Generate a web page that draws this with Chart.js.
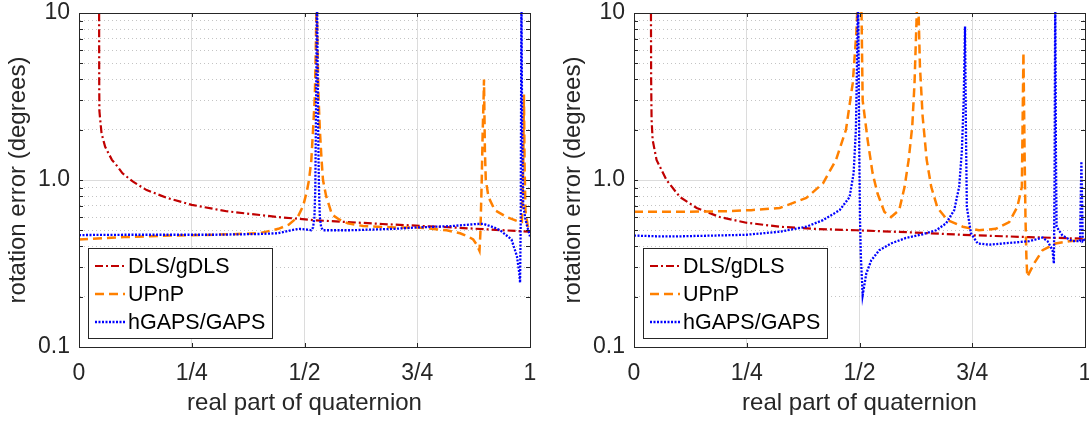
<!DOCTYPE html>
<html>
<head>
<meta charset="utf-8">
<script src="https://cdn.jsdelivr.net/npm/chart.js@4.4.1/dist/chart.umd.min.js"></script>
<style>
  html, body { margin: 0; padding: 0; background: #fff; overflow: hidden; }
  body { width: 1089px; height: 421px; position: relative; }
  canvas { position: absolute; top: 0; }
  #leftChart { left: 0; }
  #rightChart { left: 555px; }
</style>
</head>
<body>
<canvas id="leftChart" width="545" height="421"></canvas>
<canvas id="rightChart" width="545" height="421"></canvas>
<script>
// tick positions / labels
const xTicks = [0, 0.25, 0.5, 0.75, 1];
const xTickLabels = ['0', '1/4', '1/2', '3/4', '1'];
const yTicks = [0.1, 0.2, 0.3, 0.4, 0.5, 0.6, 0.7, 0.8, 0.9, 1, 2, 3, 4, 5, 6, 7, 8, 9, 10];
const yTickLabels = ['0.1', '', '', '', '', '', '', '', '', '1.0', '', '', '', '', '', '', '', '', '10'];
const seriesNames = ['DLS/gDLS', 'UPnP', 'hGAPS/GAPS'];

// left panel
const leftDlsX = [0.0440, 0.0446, 0.0448, 0.0452, 0.047, 0.050, 0.058, 0.073, 0.086, 0.096, 0.119, 0.150, 0.196, 0.250, 0.327, 0.442, 0.519, 0.673, 0.827, 1.000];
const leftDlsY = [30, 10, 4.0, 2.6, 2.3, 1.9, 1.58, 1.32, 1.2, 1.1, 0.98, 0.87, 0.78, 0.71, 0.65, 0.60, 0.575, 0.545, 0.52, 0.49];

const leftUpnpX = [0, 0.10, 0.20, 0.30, 0.40, 0.442, 0.465, 0.485, 0.497, 0.505, 0.510, 0.515, 0.519, 0.523, 0.525, 0.527, 0.529, 0.531, 0.534, 0.538, 0.541, 0.548, 0.561, 0.577, 0.596, 0.63, 0.70, 0.75, 0.815, 0.845, 0.865, 0.874, 0.882, 0.888, 0.890, 0.893, 0.895, 0.897, 0.898, 0.900, 0.902, 0.908, 0.911, 0.922, 0.948, 0.978, 0.982, 0.985, 0.9865, 0.988, 0.990, 0.995, 1.0];
const leftUpnpY = [0.44, 0.455, 0.465, 0.47, 0.48, 0.51, 0.54, 0.6, 0.7, 0.85, 1.0, 1.3, 2.0, 3.2, 6, 13, 6, 3.2, 2.0, 1.3, 1.0, 0.8, 0.62, 0.58, 0.55, 0.53, 0.52, 0.52, 0.50, 0.48, 0.455, 0.44, 0.41, 0.377, 0.48, 1.0, 1.9, 3.0, 4.0, 1.5, 1.0, 0.79, 0.76, 0.66, 0.6, 0.56, 0.56, 1.2, 3.25, 1.2, 0.65, 0.53, 0.5];

const leftGapsX = [0, 0.10, 0.20, 0.30, 0.40, 0.44, 0.47, 0.488, 0.505, 0.515, 0.519, 0.522, 0.524, 0.525, 0.5265, 0.5275, 0.529, 0.5305, 0.532, 0.534, 0.537, 0.541, 0.56, 0.60, 0.70, 0.75, 0.827, 0.88, 0.897, 0.92, 0.934, 0.959, 0.971, 0.976, 0.978, 0.9795, 0.981, 0.9825, 0.985, 0.990, 0.994, 1.0];
const leftGapsY = [0.468, 0.47, 0.47, 0.47, 0.475, 0.48, 0.50, 0.51, 0.505, 0.5, 0.52, 0.6, 0.9, 1.8, 5, 15, 5, 1.8, 0.9, 0.6, 0.52, 0.5, 0.5, 0.5, 0.51, 0.52, 0.53, 0.545, 0.546, 0.52, 0.5, 0.44, 0.35, 0.28, 0.243, 0.6, 15, 2.0, 0.7, 0.58, 0.525, 0.46];

// right panel
const rightDlsX = [0.0370, 0.0376, 0.0380, 0.0390, 0.0413, 0.050, 0.0575, 0.072, 0.102, 0.139, 0.190, 0.249, 0.323, 0.397, 0.493, 0.62, 0.75, 0.875, 1.0];
const rightDlsY = [30, 10, 4.0, 2.3, 1.74, 1.32, 1.2, 1.0, 0.79, 0.68, 0.60, 0.555, 0.525, 0.51, 0.50, 0.485, 0.467, 0.455, 0.445];

const rightUpnpX = [0, 0.10, 0.20, 0.26, 0.323, 0.382, 0.419, 0.448, 0.470, 0.485, 0.493, 0.497, 0.5045, 0.507, 0.518, 0.529, 0.540, 0.555, 0.570, 0.588, 0.600, 0.609, 0.617, 0.622, 0.627, 0.629, 0.631, 0.634, 0.640, 0.649, 0.659, 0.673, 0.695, 0.729, 0.765, 0.802, 0.832, 0.850, 0.860, 0.8635, 0.866, 0.868, 0.870, 0.872, 0.887, 0.906, 0.935, 0.965, 1.0];
const rightUpnpY = [0.645, 0.645, 0.65, 0.66, 0.68, 0.78, 0.955, 1.32, 2.0, 3.8, 7.6, 14, 10, 3.0, 1.74, 1.1, 0.83, 0.645, 0.6, 0.66, 0.91, 1.32, 2.1, 3.8, 10, 13, 10, 4.8, 2.4, 1.32, 0.91, 0.68, 0.575, 0.525, 0.5, 0.51, 0.56, 0.69, 0.91, 5.8, 1.5, 0.6, 0.35, 0.263, 0.316, 0.38, 0.417, 0.43, 0.44];

const rightGapsX = [0, 0.05, 0.102, 0.18, 0.249, 0.323, 0.382, 0.419, 0.456, 0.478, 0.487, 0.492, 0.495, 0.4965, 0.498, 0.4995, 0.501, 0.503, 0.507, 0.515, 0.526, 0.544, 0.570, 0.603, 0.640, 0.670, 0.692, 0.710, 0.721, 0.727, 0.731, 0.734, 0.736, 0.738, 0.747, 0.762, 0.788, 0.832, 0.876, 0.906, 0.917, 0.928, 0.931, 0.9325, 0.934, 0.9355, 0.937, 0.950, 0.972, 0.989, 0.992, 0.995, 1.0];
const rightGapsY = [0.465, 0.46, 0.46, 0.465, 0.47, 0.49, 0.525, 0.575, 0.66, 0.79, 1.1, 2.0, 6, 14, 5, 1.5, 0.6, 0.35, 0.204, 0.275, 0.33, 0.38, 0.417, 0.45, 0.473, 0.5, 0.55, 0.66, 0.91, 1.5, 3.0, 8.3, 2.0, 0.69, 0.48, 0.417, 0.41, 0.42, 0.43, 0.452, 0.43, 0.38, 0.316, 1.0, 14, 1.5, 0.525, 0.465, 0.43, 0.43, 1.29, 0.43, 0.44];

const textColor = '#262626';
const fontFamily = '"Liberation Sans", Arial, Helvetica, sans-serif';
const styles = [
  { color: '#c00000', dash: [8, 3, 2, 3], width: 2.2, order: 3 },
  { color: '#ff8000', dash: [9, 5], width: 2.5, order: 2 },
  { color: '#0000ff', dash: [2, 1.5], width: 2.3, order: 1 }
];

function toPoints(xs, ys) {
  return xs.map((x, i) => ({ x: x, y: ys[i] }));
}

// box, inward ticks and the in-axes legend
const framePlugin = {
  id: 'frame',
  afterDatasetsDraw(chart) {
    const { ctx, chartArea: a, scales } = chart;
    ctx.save();
    ctx.strokeStyle = textColor;
    ctx.lineWidth = 1;
    ctx.setLineDash([]);
    ctx.beginPath();
    yTicks.slice(1, -1).forEach(v => {
      const py = Math.round(scales.y.getPixelForValue(v)) + 0.5;
      ctx.moveTo(a.left, py); ctx.lineTo(a.left + 4, py);
      ctx.moveTo(a.right, py); ctx.lineTo(a.right - 4, py);
    });
    xTicks.slice(1, -1).forEach(v => {
      const px = Math.round(scales.x.getPixelForValue(v)) + 0.5;
      ctx.moveTo(px, a.bottom); ctx.lineTo(px, a.bottom - 4);
      ctx.moveTo(px, a.top); ctx.lineTo(px, a.top + 4);
    });
    ctx.stroke();
    ctx.strokeRect(Math.round(a.left) + 0.5, Math.round(a.top) + 0.5,
                   Math.round(a.right - a.left), Math.round(a.bottom - a.top));

    // legend
    const bx = Math.round(a.left) + 9, by = Math.round(a.bottom) - 99, bw = 184, bh = 90;
    ctx.fillStyle = '#fff';
    ctx.fillRect(bx, by, bw, bh);
    ctx.strokeRect(bx + 0.5, by + 0.5, bw, bh);
    ctx.font = '21.5px ' + fontFamily;
    ctx.textBaseline = 'middle';
    chart.data.datasets.forEach((ds, i) => {
      const ly = by + 18 + i * 28;
      ctx.strokeStyle = ds.borderColor;
      ctx.lineWidth = ds.borderWidth;
      ctx.setLineDash(ds.borderDash);
      ctx.beginPath();
      ctx.moveTo(bx + 7, ly); ctx.lineTo(bx + 37, ly);
      ctx.stroke();
      ctx.fillStyle = '#000';
      ctx.fillText(ds.label, bx + 40, ly + 1);
    });
    ctx.restore();
  }
};

function makeChart(id, seriesX, seriesY) {
  return new Chart(document.getElementById(id), {
    type: 'line',
    data: {
      datasets: seriesNames.map((name, i) => ({
        label: name,
        data: toPoints(seriesX[i], seriesY[i]),
        borderColor: styles[i].color,
        borderWidth: styles[i].width,
        borderDash: styles[i].dash,
        order: styles[i].order,
        pointRadius: 0,
        tension: 0,
        fill: false,
        clip: 1
      }))
    },
    options: {
      responsive: false,
      animation: false,
      devicePixelRatio: 1,
      layout: { padding: { top: 13, right: 15, left: 0, bottom: 0 } },
      plugins: { legend: { display: false }, tooltip: { enabled: false } },
      scales: {
        x: {
          type: 'linear', min: 0, max: 1,
          afterBuildTicks: s => { s.ticks = xTicks.map(v => ({ value: v })); },
          afterFit: s => { s.height = 74; s.paddingLeft = 0; s.paddingRight = 0; },
          ticks: {
            autoSkip: false, maxRotation: 0, padding: 13, color: textColor,
            font: { size: 23, family: fontFamily },
            callback: (v, i) => xTickLabels[i]
          },
          grid: { color: '#dcdcdc', lineWidth: 1, drawTicks: false },
          border: { display: true, color: textColor, width: 1 },
          title: {
            display: true, text: 'real part of quaternion', color: textColor,
            font: { size: 24, family: fontFamily }, padding: { top: 0, bottom: 3 }
          }
        },
        y: {
          type: 'logarithmic', min: 0.1, max: 10,
          afterBuildTicks: s => { s.ticks = yTicks.map(v => ({ value: v })); },
          afterFit: s => { s.width = 79; s.paddingTop = 0; s.paddingBottom = 0; },
          ticks: {
            autoSkip: false, padding: 9, color: textColor,
            font: { size: 23, family: fontFamily },
            callback: (v, i) => yTickLabels[i]
          },
          grid: {
            drawTicks: false, lineWidth: 1,
            color: c => (c.tick && c.tick.value === 1) ? '#dcdcdc' : '#c4c4c4'
          },
          border: {
            display: true, color: textColor, width: 1,
            dash: c => (c.tick && c.tick.value === 1) ? [] : [1, 3]
          },
          title: {
            display: true, text: 'rotation error (degrees)', color: textColor,
            font: { size: 24, family: fontFamily }, padding: { top: 4, bottom: 0 }
          }
        }
      }
    },
    plugins: [framePlugin]
  });
}

makeChart('leftChart', [leftDlsX, leftUpnpX, leftGapsX], [leftDlsY, leftUpnpY, leftGapsY]);
makeChart('rightChart', [rightDlsX, rightUpnpX, rightGapsX], [rightDlsY, rightUpnpY, rightGapsY]);
</script>
</body>
</html>
